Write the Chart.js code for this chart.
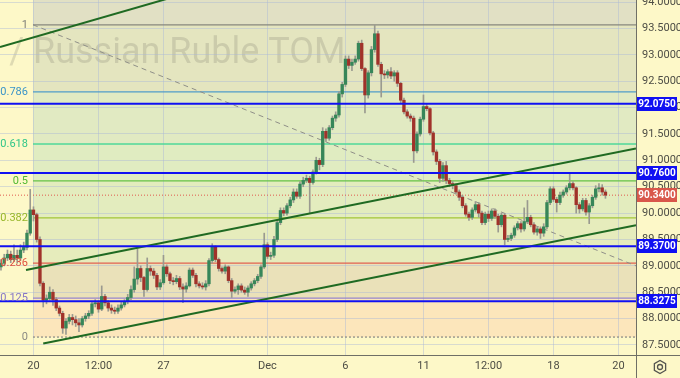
<!DOCTYPE html>
<html>
<head>
<meta charset="utf-8">
<script src="https://cdn.jsdelivr.net/npm/chart.js@4.4.0/dist/chart.umd.min.js"></script>
<style>
  html, body { margin: 0; padding: 0; background: #fdf8c8; }
  #wrap { width: 680px; height: 378px; position: relative; }
</style>
</head>
<body>
<div id="wrap"><canvas id="chart"></canvas></div>
<script>
// ── USD/RUB TOM candles (8 bars per trading day) ──
const opens = [
  88.98, 89.05, 89.15, 89.22, 89.12, 89.20, 89.15, 89.30, 89.35, 89.62,
  90.06, 89.97, 89.50, 88.67, 88.35, 88.38, 88.50, 88.36, 88.20, 88.10,
  87.82, 87.95, 88.02, 87.98, 87.92, 87.88, 88.00, 88.05, 88.10, 88.28,
  88.30, 88.18, 88.42, 88.30, 88.20, 88.16, 88.14, 88.20, 88.26, 88.32,
  88.40, 88.55, 88.75, 88.95, 88.78, 88.55, 88.95, 88.90, 88.82, 88.60,
  88.68, 88.98, 88.85, 88.72, 88.70, 88.76, 88.60, 88.56, 88.62, 88.92,
  88.82, 88.66, 88.62, 88.60, 88.66, 89.10, 89.36, 89.12, 88.95, 88.90,
  88.98, 88.72, 88.52, 88.55, 88.62, 88.54, 88.50, 88.58, 88.66, 88.72,
  88.80, 88.98, 89.40, 89.18, 89.20, 89.50, 89.82, 90.05, 90.00, 90.14,
  90.25, 90.40, 90.32, 90.55, 90.62, 90.66, 90.58, 90.78, 91.00, 90.92,
  91.55, 91.42, 91.62, 91.80, 91.86, 92.26, 92.44, 92.92, 92.80, 92.86,
  92.92, 93.22, 92.74, 92.24, 92.66, 93.10, 93.40, 92.82, 92.64, 92.62,
  92.68, 92.60, 92.66, 92.46, 92.14, 91.92, 91.84, 91.80, 91.18, 91.50,
  91.78, 92.02, 91.98, 91.52, 91.16, 90.98, 90.66, 90.90, 90.62, 90.56,
  90.52, 90.40, 90.30, 90.14, 89.98, 89.92, 90.06, 90.16, 90.00, 89.82,
  89.98, 89.90, 90.04, 89.94, 89.78, 89.96, 89.50, 89.52, 89.58, 89.72,
  89.80, 89.70, 89.84, 89.92, 89.78, 89.64, 89.70, 89.62, 89.74, 90.20,
  90.46, 90.26, 90.20, 90.34, 90.40, 90.48, 90.56, 90.48, 90.16, 90.08,
  90.24, 90.02, 90.14, 90.30, 90.46, 90.48, 90.40
];
const highs = [
  89.12, 89.22, 89.30, 89.28, 89.40, 89.30, 89.40, 89.45, 89.68, 90.45,
  90.12, 90.00, 89.55, 88.70, 88.45, 88.60, 88.55, 88.40, 88.24, 88.14,
  88.00, 88.08, 88.08, 88.05, 88.00, 88.04, 88.10, 88.15, 88.32, 88.36,
  88.34, 88.62, 88.46, 88.34, 88.26, 88.22, 88.26, 88.32, 88.36, 88.46,
  88.62, 88.98, 89.32, 89.00, 88.80, 89.15, 89.00, 88.95, 88.86, 88.74,
  89.20, 89.02, 88.88, 88.78, 88.82, 88.80, 88.66, 88.68, 88.96, 88.96,
  88.86, 88.70, 88.68, 88.72, 89.14, 89.42, 89.38, 89.15, 88.98, 89.02,
  89.00, 88.76, 88.60, 88.66, 88.66, 88.60, 88.62, 88.70, 88.76, 88.84,
  89.02, 89.62, 89.44, 89.26, 89.56, 89.86, 90.10, 90.10, 90.18, 90.30,
  90.46, 90.46, 90.60, 90.68, 90.72, 90.70, 90.82, 91.06, 91.04, 91.62,
  91.60, 91.66, 91.84, 91.92, 92.30, 92.48, 92.98, 92.98, 92.92, 92.98,
  93.26, 93.28, 92.76, 92.70, 93.16, 93.56, 93.45, 92.86, 92.70, 92.72,
  92.76, 92.70, 92.70, 92.48, 92.18, 91.96, 91.88, 91.84, 91.54, 91.82,
  92.24, 92.06, 92.00, 91.55, 91.20, 91.02, 90.96, 90.98, 90.66, 90.60,
  90.56, 90.44, 90.34, 90.18, 90.02, 90.10, 90.22, 90.20, 90.04, 90.02,
  90.04, 90.08, 90.08, 89.98, 90.00, 89.98, 89.58, 89.62, 89.76, 89.84,
  89.84, 90.10, 90.24, 89.96, 89.82, 89.74, 89.74, 89.80, 90.24, 90.50,
  90.50, 90.30, 90.40, 90.44, 90.52, 90.76, 90.60, 90.50, 90.20, 90.28,
  90.28, 90.18, 90.34, 90.52, 90.56, 90.54, 90.44
];
const lows = [
  88.92, 89.00, 89.10, 89.06, 89.08, 89.05, 89.10, 89.25, 89.30, 89.58,
  89.85, 89.45, 88.62, 88.22, 88.28, 88.35, 88.25, 88.15, 88.05, 87.72,
  87.70, 87.90, 87.88, 87.85, 87.75, 87.84, 87.95, 88.00, 88.06, 88.22,
  88.12, 88.15, 88.24, 88.14, 88.10, 88.09, 88.10, 88.16, 88.22, 88.28,
  88.36, 88.50, 88.65, 88.70, 88.42, 88.52, 88.82, 88.76, 88.55, 88.55,
  88.65, 88.80, 88.66, 88.64, 88.66, 88.55, 88.30, 88.50, 88.60, 88.78,
  88.60, 88.58, 88.56, 88.54, 88.62, 89.05, 89.08, 88.90, 88.86, 88.85,
  88.68, 88.40, 88.48, 88.46, 88.50, 88.46, 88.42, 88.54, 88.62, 88.68,
  88.76, 88.95, 89.14, 89.12, 89.16, 89.46, 89.78, 89.95, 89.96, 90.10,
  90.20, 90.28, 90.28, 90.50, 90.58, 90.00, 90.55, 90.74, 90.82, 90.88,
  91.36, 91.38, 91.58, 91.74, 91.82, 92.20, 92.40, 92.74, 92.70, 92.82,
  92.88, 92.70, 91.90, 92.18, 92.60, 93.05, 92.78, 92.20, 92.55, 92.56,
  92.55, 92.50, 92.40, 92.08, 91.88, 91.80, 91.74, 90.96, 91.14, 91.46,
  91.74, 91.94, 91.48, 91.10, 90.92, 90.58, 90.60, 90.56, 90.50, 90.46,
  90.36, 90.24, 90.10, 89.94, 89.86, 89.88, 90.02, 89.92, 89.78, 89.78,
  89.84, 89.86, 89.90, 89.64, 89.74, 89.40, 89.46, 89.48, 89.54, 89.68,
  89.64, 89.66, 89.80, 89.74, 89.60, 89.58, 89.52, 89.56, 89.70, 90.16,
  90.22, 90.02, 90.16, 90.30, 90.36, 90.44, 90.44, 90.00, 90.00, 90.04,
  89.96, 89.80, 90.10, 90.26, 90.40, 90.34, 90.28
];
const closes = [
  89.05, 89.15, 89.22, 89.12, 89.20, 89.15, 89.30, 89.35, 89.62, 90.06,
  89.97, 89.50, 88.67, 88.35, 88.38, 88.50, 88.36, 88.20, 88.10, 87.82,
  87.95, 88.02, 87.98, 87.92, 87.88, 88.00, 88.05, 88.10, 88.28, 88.30,
  88.18, 88.42, 88.30, 88.20, 88.16, 88.14, 88.20, 88.26, 88.32, 88.40,
  88.55, 88.75, 88.95, 88.78, 88.55, 88.95, 88.90, 88.82, 88.60, 88.68,
  88.98, 88.85, 88.72, 88.70, 88.76, 88.60, 88.56, 88.62, 88.92, 88.82,
  88.66, 88.62, 88.60, 88.66, 89.10, 89.36, 89.12, 88.95, 88.90, 88.98,
  88.72, 88.52, 88.55, 88.62, 88.54, 88.50, 88.58, 88.66, 88.72, 88.80,
  88.98, 89.40, 89.18, 89.20, 89.50, 89.82, 90.05, 90.00, 90.14, 90.25,
  90.40, 90.32, 90.55, 90.62, 90.66, 90.58, 90.78, 91.00, 90.92, 91.55,
  91.42, 91.62, 91.80, 91.86, 92.26, 92.44, 92.92, 92.80, 92.86, 92.92,
  93.22, 92.74, 92.24, 92.66, 93.10, 93.40, 92.82, 92.64, 92.62, 92.68,
  92.60, 92.66, 92.46, 92.14, 91.92, 91.84, 91.80, 91.18, 91.50, 91.78,
  92.02, 91.98, 91.52, 91.16, 90.98, 90.66, 90.90, 90.62, 90.56, 90.52,
  90.40, 90.30, 90.14, 89.98, 89.92, 90.06, 90.16, 90.00, 89.82, 89.98,
  89.90, 90.04, 89.94, 89.78, 89.96, 89.50, 89.52, 89.58, 89.72, 89.80,
  89.70, 89.84, 89.92, 89.78, 89.64, 89.70, 89.62, 89.74, 90.20, 90.46,
  90.26, 90.20, 90.34, 90.40, 90.48, 90.56, 90.48, 90.16, 90.08, 90.24,
  90.02, 90.14, 90.30, 90.46, 90.48, 90.40, 90.34
];

// ── Axes ──
const xTickPos    = [10, 30, 50, 82, 106, 130, 150, 170, 190];
const xTickLabels = ['20', '12:00', '27', 'Dec', '6', '11', '12:00', '18', '20'];
const yTickVals   = [87.5, 88, 88.5, 89, 89.5, 90, 90.5, 91, 91.5, 92, 92.5, 93, 93.5, 94];
const xMin = -0.3, xMax = 195.4;
const yMin = 87.31, yMax = 94.04;

// ── Fibonacci retracement ──
const fibStartX     = 9.85;
const fibRatios     = ['1', '0.786', '0.618', '0.5', '0.382', '0.236', '0.125', '0'];
const fibPrices     = [93.57, 92.30, 91.31, 90.61, 89.91, 89.05, 88.39, 87.65];
const fibLineColors = ['#86867e', '#4f9bc8', '#4fd898', '#66c244', '#a2c636', '#e0604f', '#9686cc', '#8e8e88'];
const fibTextColors = ['#7f7f78', '#3a94c8', '#30c688', '#50b830', '#96b628', '#e0503f', '#8575c6', '#8a8a84'];
// zone above 1, then between consecutive levels
const fibZoneColors = ['#e1e0c4', '#e4e5bf', '#e1eac2', '#e0ecc1', '#e3ecbe', '#e6ecbc', '#eae1b9', '#fce6bb'];

// ── Drawn levels / lines ──
const levelPrices  = [92.075, 90.76, 89.37, 88.3275];
const lastPrice    = 90.34;
const trendOuter   = [{ x: -0.3, y: 93.15 }, { x: 60, y: 94.22 }];
const channelUpper = [{ x: 7.7, y: 88.92 }, { x: 195.4, y: 91.225 }];
const channelLower = [{ x: 13.0, y: 87.53 }, { x: 195.4, y: 89.77 }];
const fibDiagonal  = [{ x: 9.85, y: 93.57 }, { x: 195.4, y: 89.0 }];

const GREEN = '#378659';
const RED   = '#a0322a';
const WICK  = '#9a9a90';
const BLUE  = '#1010f2';
const TXT   = '#4d4d45';
const FONT  = 'Roboto, "Liberation Sans", sans-serif';

// ── Helpers ──
const hline = p => [{ x: xMin, y: p }, { x: xMax, y: p }];
function lineDs(data, color, width, dash, order) {
  return {
    type: 'line', data, borderColor: color, borderWidth: width,
    borderDash: dash || [], pointRadius: 0, fill: false, tension: 0, order
  };
}

const idx = closes.map((_, i) => i);
const wickData = idx.map(i => ({ x: i, y: [lows[i], highs[i]] }));
const bodyData = idx.map(i => ({ x: i, y: [opens[i], closes[i]] }));

const datasets = [];
fibPrices.forEach((p, i) => {
  const dash = i === fibPrices.length - 1 ? [2, 2] : [];
  datasets.push(lineDs([{ x: fibStartX, y: p }, { x: xMax, y: p }], fibLineColors[i], 1.3, dash, 9));
});
datasets.push(lineDs(fibDiagonal, '#8f8f88', 1, [5, 4], 8));
datasets.push(lineDs(hline(lastPrice), '#e0584c', 1, [1, 2], 7));
datasets.push({
  type: 'bar', data: wickData, backgroundColor: WICK, barThickness: 1,
  grouped: false, order: 6
});
datasets.push({
  type: 'bar', data: bodyData, barThickness: 2.7, grouped: false, minBarLength: 1, order: 5,
  backgroundColor: c => closes[c.dataIndex] >= opens[c.dataIndex] ? GREEN : RED
});
datasets.push(lineDs(trendOuter, '#1f6a22', 2, null, 2));
datasets.push(lineDs(channelUpper, '#1f6a22', 2, null, 2));
datasets.push(lineDs(channelLower, '#1f6a22', 2, null, 2));
levelPrices.forEach(p => datasets.push(lineDs(hline(p), BLUE, 2, null, 1)));

// ── Background, zones, watermark, labels ──
const decor = {
  id: 'decor',
  beforeDraw(chart) {
    const { ctx, chartArea: a, scales: { x, y } } = chart;
    ctx.save();
    ctx.fillStyle = '#fdf8c8';
    ctx.fillRect(0, 0, chart.width, chart.height);
    const left = x.getPixelForValue(fibStartX);
    fibZoneColors.forEach((col, i) => {
      const top = i === 0 ? a.top : y.getPixelForValue(fibPrices[i - 1]);
      const bot = y.getPixelForValue(fibPrices[i]);
      ctx.fillStyle = col;
      ctx.fillRect(left, top, a.right - left, bot - top);
    });
    // watermark
    ctx.font = '36px ' + FONT;
    ctx.fillStyle = 'rgba(115,115,100,0.22)';
    ctx.textBaseline = 'alphabetic';
    const lead = ctx.measureText('/ ').width;
    ctx.fillText('/ Russian Ruble TOM', left - lead, 63);
    ctx.restore();
  },
  afterDraw(chart) {
    const { ctx, chartArea: a, scales: { x, y } } = chart;
    ctx.save();
    // fib labels
    const left = x.getPixelForValue(fibStartX);
    ctx.font = '11px ' + FONT;
    ctx.textAlign = 'right';
    ctx.textBaseline = 'middle';
    fibRatios.forEach((r, i) => {
      ctx.fillStyle = fibTextColors[i];
      ctx.fillText(r, left - 5, y.getPixelForValue(fibPrices[i]));
    });
    // pane borders
    ctx.strokeStyle = '#6f6f66';
    ctx.lineWidth = 1;
    ctx.beginPath();
    ctx.moveTo(a.right + 0.5, 0);
    ctx.lineTo(a.right + 0.5, chart.height);
    ctx.moveTo(0, a.bottom + 0.5);
    ctx.lineTo(chart.width, a.bottom + 0.5);
    ctx.stroke();
    // price labels
    ctx.font = 'bold 10px ' + FONT;
    ctx.textAlign = 'center';
    const tag = (p, bg) => {
      const py = Math.round(y.getPixelForValue(p));
      ctx.fillStyle = bg;
      ctx.fillRect(a.right + 1, py - 7, 40, 14);
      ctx.fillStyle = '#ffffff';
      ctx.fillText(p.toFixed(4), a.right + 21, py + 0.5);
    };
    levelPrices.forEach(p => tag(p, BLUE));
    tag(lastPrice, '#d9574b');
    // settings icon
    const cx = a.right + 24, cy = a.bottom + 12;
    ctx.strokeStyle = '#555550';
    ctx.lineWidth = 1.3;
    ctx.beginPath();
    for (let k = 0; k < 6; k++) {
      const ang = Math.PI / 6 + k * Math.PI / 3;
      const px = cx + 6.5 * Math.cos(ang), py = cy + 6.5 * Math.sin(ang);
      k === 0 ? ctx.moveTo(px, py) : ctx.lineTo(px, py);
    }
    ctx.closePath();
    ctx.stroke();
    ctx.beginPath();
    ctx.arc(cx, cy, 2.5, 0, Math.PI * 2);
    ctx.stroke();
    ctx.restore();
  }
};

// ── Chart ──
new Chart(document.getElementById('chart'), {
  type: 'bar',
  data: { datasets },
  options: {
    responsive: true,
    maintainAspectRatio: false,
    animation: false,
    layout: { padding: 0 },
    plugins: { legend: { display: false }, tooltip: { enabled: false } },
    scales: {
      x: {
        type: 'linear', min: xMin, max: xMax, offset: false,
        afterBuildTicks: s => { s.ticks = xTickPos.map(v => ({ value: v })); },
        afterFit: s => { s.height = 23; s.paddingLeft = 0; s.paddingRight = 0; },
        grid: { color: 'rgba(170,185,215,0.45)', drawTicks: false, offset: false },
        border: { display: false },
        ticks: {
          autoSkip: false, maxRotation: 0, padding: 5, color: TXT,
          font: { family: FONT, size: 11 },
          callback: (v, i) => xTickLabels[i]
        }
      },
      y: {
        type: 'linear', position: 'right', min: yMin, max: yMax, beginAtZero: false,
        afterBuildTicks: s => { s.ticks = yTickVals.map(v => ({ value: v })); },
        afterFit: s => { s.width = 44; s.paddingTop = 0; s.paddingBottom = 0; },
        grid: { color: 'rgba(170,185,215,0.45)', drawTicks: false },
        border: { display: false },
        ticks: {
          padding: 6, color: TXT, font: { family: FONT, size: 11 },
          callback: v => Number(v).toFixed(4)
        }
      }
    }
  },
  plugins: [decor]
});
</script>
</body>
</html>
